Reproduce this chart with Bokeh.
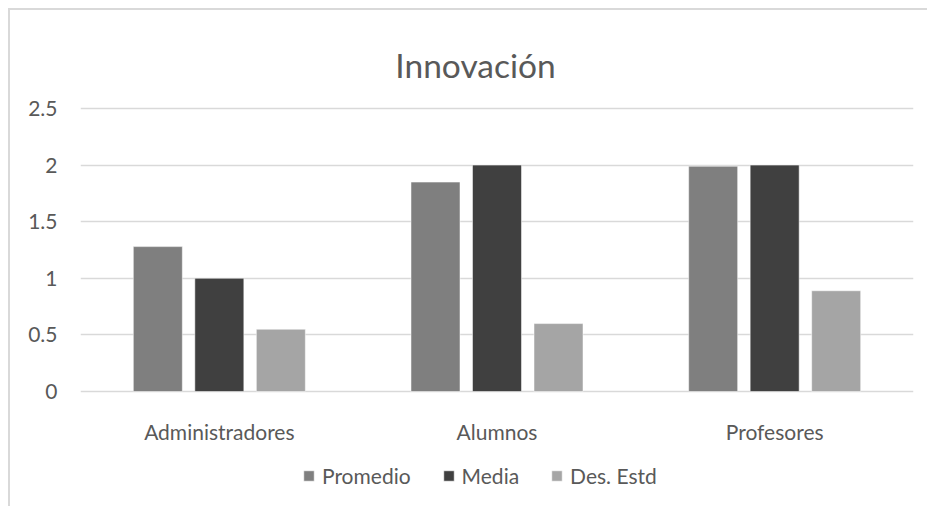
from bokeh.plotting import figure
from bokeh.models import (FactorRange, Range1d, FixedTicker, NumeralTickFormatter,
                          Legend, LegendItem, ColumnDataSource)
from bokeh.core.properties import value
from bokeh.transform import dodge
from bokeh.embed import file_html
from bokeh.resources import INLINE

# ---- data ----
title_text = "Innovación"
categories = ["Administradores", "Alumnos", "Profesores"]
promedio = [1.28, 1.85, 1.99]
media = [1.0, 2.0, 2.0]
des_estd = [0.55, 0.60, 0.89]
series_names = ["Promedio", "Media", "Des. Estd"]
y_ticks = [0, 0.5, 1, 1.5, 2, 2.5]

# ---- style / geometry ----
colors = ["#7f7f7f", "#404040", "#a5a5a5"]
offsets = [-0.2215, 0.0, 0.2215]
bar_w = 0.1765
FONT = "Lato"
TXT = "#595959"
CANVAS_H = 498
PX_PER_UNIT = 113.2          # vertical scale of the value axis
ZERO_PX = 381                # zero line, px from canvas top
Y_TOP = ZERO_PX / PX_PER_UNIT
Y_BOTTOM = -(CANVAS_H - ZERO_PX) / PX_PER_UNIT
LABEL_BASELINE_PX = 40       # category labels' baseline below the zero line
TITLE_BASELINE_PX = 327      # title baseline above the zero line
TITLE_SHIFT = -0.0774        # title centre relative to middle category

source = ColumnDataSource(data=dict(cat=categories, Promedio=promedio,
                                    Media=media, Des=des_estd))

p = figure(width=919, height=CANVAS_H, x_range=FactorRange(*categories),
           y_range=Range1d(Y_BOTTOM, Y_TOP), output_backend="svg",
           toolbar_location=None, title=None,
           min_border_left=70, min_border_right=16, min_border_top=0,
           min_border_bottom=0, margin=(8, 0, 0, 8),
           styles={"border-top": "2px solid #d9d9d9",
                   "border-left": "2px solid #d9d9d9"})
p.background_fill_color = "white"
p.border_fill_color = "white"
p.outline_line_color = None

renderers = []
for name, key, col, off in zip(series_names, ["Promedio", "Media", "Des"], colors, offsets):
    r = p.vbar(x=dodge("cat", off, range=p.x_range), top=key, bottom=0, width=bar_w,
               source=source, fill_color=col, line_color="white", line_alpha=0.5,
               line_width=1)
    renderers.append((name, r))

# value axis
p.yaxis.ticker = FixedTicker(ticks=y_ticks)
p.yaxis.formatter = NumeralTickFormatter(format="0.[0]")
p.yaxis.axis_line_color = None
p.yaxis.major_tick_line_color = None
p.yaxis.minor_tick_line_color = None
p.yaxis.major_tick_out = 0
p.yaxis.major_label_standoff = 23
p.yaxis.major_label_text_font = FONT
p.yaxis.major_label_text_font_size = "21px"
p.yaxis.major_label_text_color = TXT

# category axis labels (drawn in the frame, below the zero line)
p.xaxis.visible = False
p.text(x=categories, y=[-LABEL_BASELINE_PX / PX_PER_UNIT] * len(categories),
       text=categories, text_align="center", text_baseline="alphabetic",
       text_font=value(FONT), text_font_size="21px", text_color=TXT)

# chart title
title_src = ColumnDataSource(data=dict(x=[categories[1]],
                                       y=[TITLE_BASELINE_PX / PX_PER_UNIT],
                                       t=[title_text]))
p.text(x=dodge("x", TITLE_SHIFT, range=p.x_range), y="y", text="t",
       source=title_src, text_align="center", text_baseline="alphabetic",
       text_font=value(FONT), text_font_size="33.5px", text_color=TXT)

p.xgrid.grid_line_color = None
p.ygrid.grid_line_color = "#d9d9d9"
p.ygrid.grid_line_width = 1.5

# legend
legend = Legend(items=[LegendItem(label=n, renderers=[r]) for n, r in renderers],
                orientation="horizontal", location=(222, 20))
legend.label_text_font = FONT
legend.label_text_font_size = "21px"
legend.label_text_color = TXT
legend.glyph_width = 13
legend.glyph_height = 13
legend.label_standoff = 7
legend.spacing = 31
legend.padding = 0
legend.margin = 0
legend.border_line_color = None
legend.background_fill_alpha = 0
p.add_layout(legend)

open("out.html", "w").write(file_html(p, INLINE))
